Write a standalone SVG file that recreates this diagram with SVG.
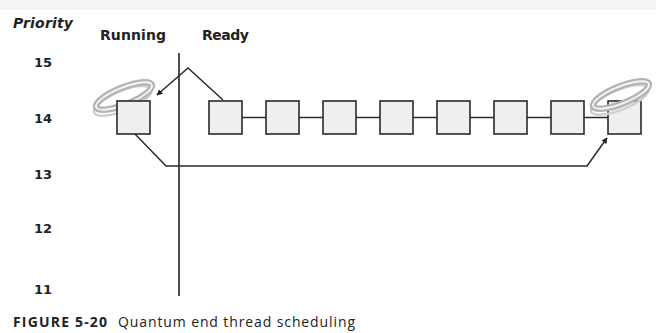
<svg xmlns="http://www.w3.org/2000/svg" width="656" height="333" viewBox="0 0 656 333">
<style>
.lbl{font-family:"DejaVu Sans",sans-serif;font-weight:bold;fill:#222}
.num{font-family:"DejaVu Sans",sans-serif;font-weight:bold;font-size:13px;fill:#222}
.box{fill:#efefef;stroke:#2a2a2a;stroke-width:1.6}
.conn{fill:none;stroke:#2a2a2a;stroke-width:1.5}
.halo1{fill:none;stroke:#b4b4b4;stroke-width:6.5}
.halo2{fill:none;stroke:#f6f6f6;stroke-width:1.8}
.halo3{fill:none;stroke:#d0d0d0;stroke-width:2.5}
.cap{font-family:"Open Sans","Noto Sans",sans-serif;font-size:14px;fill:#222}
</style>
<defs>
<marker id="ah" viewBox="0 0 10 10" refX="9" refY="5" markerWidth="6" markerHeight="6" orient="auto" markerUnits="userSpaceOnUse">
<path d="M0,0 L10,5 L0,10 z" fill="#222"/>
</marker>
<g id="halo">
<ellipse cx="-3" cy="4" rx="31" ry="10" class="halo3"/>
<ellipse cx="0" cy="0" rx="30" ry="8.5" class="halo1"/>
<ellipse cx="0" cy="0" rx="30" ry="8.5" class="halo2"/>
</g>
</defs>
<rect x="0" y="0" width="656" height="10" fill="#f4f4f4"/>
<text class="lbl" x="13" y="28" font-size="14" font-style="italic" textLength="60">Priority</text>
<text class="lbl" x="100" y="40" font-size="14" textLength="66">Running</text>
<text class="lbl" x="202" y="40" font-size="14" textLength="47">Ready</text>
<g id="priorities">
<text class="num" x="34" y="67">15</text>
<text class="num" x="34" y="123">14</text>
<text class="num" x="34" y="179">13</text>
<text class="num" x="34" y="233">12</text>
<text class="num" x="34" y="294">11</text>
</g>
<line x1="179" y1="53" x2="179" y2="296" stroke="#222" stroke-width="1.6"/>
<g id="running-thread">
<use href="#halo" transform="translate(124,96) rotate(-22)"/>
<rect class="box" x="117" y="101" width="33" height="33"/>
</g>
<g id="ready-1"><rect class="box" x="209" y="101" width="33" height="33"/></g>
<g id="ready-2"><rect class="box" x="266" y="101" width="33" height="33"/></g>
<g id="ready-3"><rect class="box" x="323" y="101" width="33" height="33"/></g>
<g id="ready-4"><rect class="box" x="380" y="101" width="33" height="33"/></g>
<g id="ready-5"><rect class="box" x="437" y="101" width="33" height="33"/></g>
<g id="ready-6"><rect class="box" x="494" y="101" width="33" height="33"/></g>
<g id="ready-7"><rect class="box" x="551" y="101" width="33" height="33"/></g>
<g id="ready-8">
<rect class="box" x="608" y="101" width="33" height="33"/>
<use href="#halo" transform="translate(621,95) rotate(-22)"/>
</g>
<g id="connectors">
<line class="conn" x1="242" y1="117.5" x2="266" y2="117.5"/>
<line class="conn" x1="299" y1="117.5" x2="323" y2="117.5"/>
<line class="conn" x1="356" y1="117.5" x2="380" y2="117.5"/>
<line class="conn" x1="413" y1="117.5" x2="437" y2="117.5"/>
<line class="conn" x1="470" y1="117.5" x2="494" y2="117.5"/>
<line class="conn" x1="527" y1="117.5" x2="551" y2="117.5"/>
<line class="conn" x1="584" y1="117.5" x2="608" y2="117.5"/>
<polyline class="conn" points="223,100 188,68 157,95" marker-end="url(#ah)"/>
<polyline class="conn" points="135,134 166,166 587,166 607,138" marker-end="url(#ah)"/>
</g>
<text class="cap" x="13" y="327" font-weight="bold" textLength="94">FIGURE 5-20</text>
<text class="cap" x="118" y="327" textLength="237">Quantum end thread scheduling</text>
</svg>
